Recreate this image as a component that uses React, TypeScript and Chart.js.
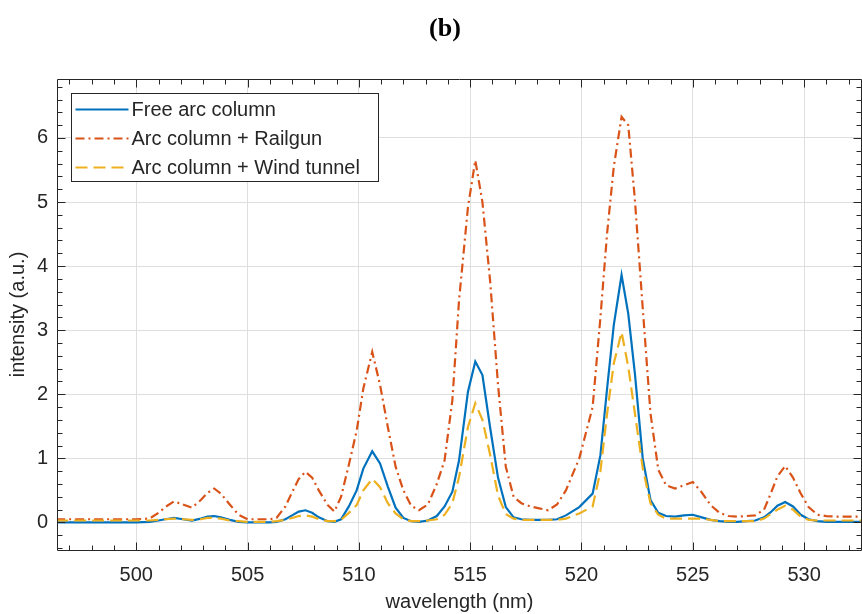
import React, { useEffect, useRef } from "react";
import { Chart, registerables } from "chart.js";

Chart.register(...registerables);

// ---- data ----
const wavelength = [
  496.4, 497, 498, 499, 500, 500.6, 501, 501.3, 501.7, 502.1, 502.5, 502.9, 503.2, 503.5, 503.8,
  504.2, 504.6, 505.0, 505.5, 506.0, 506.3, 506.7, 507.0, 507.3, 507.6, 507.9, 508.2, 508.6, 508.9,
  509.2, 509.55, 509.9, 510.2, 510.6, 510.95, 511.3, 511.65, 512.0, 512.35, 512.7, 513.1, 513.5,
  513.85, 514.2, 514.5, 514.9, 515.23, 515.55, 515.9, 516.25, 516.6, 516.95, 517.3, 517.7, 518.1,
  518.5, 518.9, 519.3, 519.9, 520.5, 520.85, 521.15, 521.45, 521.8, 522.1, 522.4, 522.75, 523.1,
  523.45, 523.8, 524.2, 524.6, 525.0, 525.4, 525.8, 526.2, 526.6, 527.0, 527.4, 527.8, 528.2,
  528.5, 528.8, 529.15, 529.5, 529.85, 530.2, 530.6, 531.0, 531.5, 532.0, 532.6,
];

const freeArc = [
  0.0, 0.0, 0.0, 0.0, 0.0, 0.01, 0.03, 0.05, 0.07, 0.05, 0.03, 0.06, 0.09, 0.10, 0.08,
  0.04, 0.01, 0.0, 0.0, 0.0, 0.01, 0.05, 0.11, 0.17, 0.19, 0.15, 0.08, 0.02, 0.01,
  0.05, 0.25, 0.5, 0.84, 1.11, 0.92, 0.56, 0.23, 0.07, 0.02, 0.01, 0.03, 0.10,
  0.25, 0.48, 0.97, 2.04, 2.51, 2.3, 1.47, 0.7, 0.24, 0.08, 0.05, 0.04, 0.04,
  0.04, 0.05, 0.11, 0.24, 0.45, 1.05, 2.09, 3.08, 3.86, 3.26, 2.32, 1.0, 0.35,
  0.15, 0.1, 0.09, 0.11, 0.12, 0.08, 0.04, 0.02, 0.01, 0.01, 0.02, 0.03, 0.08,
  0.16, 0.26, 0.32, 0.25, 0.12, 0.05, 0.02, 0.01, 0.01, 0.01, 0.01,
];

const railgun = [
  0.05, 0.05, 0.05, 0.05, 0.05, 0.06, 0.15, 0.24, 0.33, 0.28, 0.23, 0.35, 0.46, 0.53, 0.45,
  0.28, 0.12, 0.05, 0.05, 0.05, 0.07, 0.25, 0.47, 0.68, 0.79, 0.7, 0.5, 0.27, 0.17,
  0.4, 0.9, 1.43, 2.09, 2.66, 2.15, 1.49, 0.87, 0.5, 0.26, 0.19, 0.28, 0.6,
  0.97, 1.91, 3.47, 4.92, 5.65, 5.0, 3.75, 2.15, 0.87, 0.4, 0.3, 0.25, 0.22,
  0.19, 0.28, 0.5, 1.0, 1.8, 3.2, 4.51, 5.55, 6.33, 6.2, 5.03, 3.35, 1.7,
  0.82, 0.58, 0.53, 0.58, 0.63, 0.47, 0.27, 0.15, 0.1, 0.09, 0.1, 0.11, 0.2,
  0.45, 0.72, 0.88, 0.7, 0.45, 0.24, 0.12, 0.1, 0.09, 0.09, 0.09,
];

const windTunnel = [
  0.03, 0.03, 0.03, 0.03, 0.03, 0.03, 0.04, 0.05, 0.06, 0.05, 0.04, 0.05, 0.07, 0.07, 0.06,
  0.03, 0.02, 0.01, 0.01, 0.01, 0.02, 0.04, 0.07, 0.1, 0.11, 0.09, 0.05, 0.02, 0.02,
  0.04, 0.15, 0.27, 0.5, 0.68, 0.55, 0.3, 0.14, 0.05, 0.02, 0.02, 0.03, 0.05,
  0.12, 0.3, 0.71, 1.49, 1.86, 1.6, 1.05, 0.42, 0.13, 0.06, 0.04, 0.04, 0.04,
  0.04, 0.04, 0.06, 0.14, 0.25, 0.8, 1.7, 2.48, 2.97, 2.43, 1.7, 0.85, 0.3,
  0.12, 0.06, 0.06, 0.06, 0.06, 0.06, 0.04, 0.02, 0.02, 0.02, 0.02, 0.02, 0.06,
  0.13, 0.2, 0.26, 0.2, 0.09, 0.04, 0.03, 0.03, 0.03, 0.03, 0.03,
];

const seriesNames = ["Free arc column", "Arc column + Railgun", "Arc column + Wind tunnel"];
const xTicks = [500, 505, 510, 515, 520, 525, 530];
const yTicks = [0, 1, 2, 3, 4, 5, 6];
const xRange = [496.44, 532.6];
const yRange = [-0.43, 6.92];
const chartTitle = "(b)";
const xTitle = "wavelength (nm)";
const yTitle = "intensity (a.u.)";

// ---- styles ----
const FONT = '"Liberation Sans", Arial, Helvetica, sans-serif';
const TEXT = "#262626";
const COLORS = ["#0072BD", "#D95319", "#EDB120"];
const DASHES: number[][] = [[], [9, 4, 2, 4], [12, 6]];

const toPoints = (ys: number[]) => ys.map((y, i) => ({ x: wavelength[i], y }));

const decorPlugin = {
  id: "decor",
  afterDraw(chart: any) {
    const { ctx, chartArea: a, scales } = chart;
    const xs = scales.x;
    const ys = scales.y;
    ctx.save();
    // title
    ctx.fillStyle = "#000";
    ctx.font = 'bold 26px "Liberation Serif", "Times New Roman", serif';
    ctx.textAlign = "center";
    ctx.textBaseline = "middle";
    ctx.fillText(chartTitle, 445, 29);

    // frame
    ctx.strokeStyle = TEXT;
    ctx.lineWidth = 1;
    ctx.setLineDash([]);
    const L = Math.round(a.left) + 0.5;
    const R = Math.round(a.right) - 0.5;
    const T = Math.round(a.top) + 0.5;
    const B = Math.round(a.bottom) + 0.5;
    ctx.beginPath();
    ctx.moveTo(L, T);
    ctx.lineTo(R, T);
    ctx.lineTo(R, B);
    ctx.lineTo(L, B);
    ctx.closePath();
    ctx.stroke();

    // inward ticks
    ctx.beginPath();
    for (let v = Math.ceil(xRange[0]); v <= xRange[1]; v += 1) {
      const px = Math.round(xs.getPixelForValue(v)) + 0.5;
      const len = v % 5 === 0 ? 8 : 5;
      ctx.moveTo(px, B);
      ctx.lineTo(px, B - len);
      ctx.moveTo(px, T);
      ctx.lineTo(px, T + len);
    }
    for (let i = Math.ceil(yRange[0] / 0.2); i * 0.2 <= yRange[1]; i++) {
      const py = Math.round(ys.getPixelForValue(i * 0.2)) + 0.5;
      const len = i % 5 === 0 ? 8 : 5;
      ctx.moveTo(L, py);
      ctx.lineTo(L + len, py);
      ctx.moveTo(R, py);
      ctx.lineTo(R - len, py);
    }
    ctx.stroke();

    // legend
    const bx = Math.round(a.left) + 14.5;
    const by = Math.round(a.top) + 14.5;
    const bw = 307;
    const bh = 88;
    ctx.fillStyle = "#fff";
    ctx.fillRect(bx, by, bw, bh);
    ctx.strokeStyle = TEXT;
    ctx.strokeRect(bx, by, bw, bh);
    ctx.font = `20px ${FONT}`;
    ctx.textAlign = "left";
    ctx.textBaseline = "middle";
    seriesNames.forEach((name, i) => {
      const yy = by + 16 + i * 29;
      ctx.beginPath();
      ctx.strokeStyle = COLORS[i];
      ctx.lineWidth = 2;
      ctx.setLineDash(DASHES[i]);
      ctx.moveTo(bx + 4, yy);
      ctx.lineTo(bx + 57, yy);
      ctx.stroke();
      ctx.setLineDash([]);
      ctx.fillStyle = TEXT;
      ctx.fillText(name, bx + 60, yy + 1);
    });
    ctx.restore();
  },
};

export default function App() {
  const ref = useRef<HTMLCanvasElement | null>(null);

  useEffect(() => {
    if (!ref.current) return;
    const series = [freeArc, railgun, windTunnel];
    const chart = new Chart(ref.current, {
      type: "line",
      data: {
        datasets: series.map((ys, i) => ({
          label: seriesNames[i],
          data: toPoints(ys),
          borderColor: COLORS[i],
          backgroundColor: COLORS[i],
          borderWidth: 2.2,
          borderDash: DASHES[i],
          pointRadius: 0,
          tension: 0,
          fill: false,
          order: 3 - i,
        })),
      },
      options: {
        responsive: false,
        animation: false,
        devicePixelRatio: 1,
        layout: { padding: { top: 79, right: 0, left: 0, bottom: 0 } },
        plugins: {
          legend: { display: false },
          title: { display: false },
          tooltip: { enabled: false },
        },
        scales: {
          x: {
            type: "linear",
            min: xRange[0],
            max: xRange[1],
            afterBuildTicks: (s: any) => {
              s.ticks = xTicks.map((v) => ({ value: v }));
            },
            afterFit: (s: any) => {
              s.height = 64;
            },
            grid: { color: "#dfdfdf", drawTicks: false, lineWidth: 1 },
            border: { display: false },
            ticks: {
              padding: 13,
              maxRotation: 0,
              autoSkip: false,
              color: TEXT,
              font: { family: FONT, size: 20 },
            },
            title: {
              display: true,
              text: xTitle,
              color: TEXT,
              font: { family: FONT, size: 20 },
              padding: { top: 0, bottom: 0 },
            },
          },
          y: {
            type: "linear",
            min: yRange[0],
            max: yRange[1],
            afterBuildTicks: (s: any) => {
              s.ticks = yTicks.map((v) => ({ value: v }));
            },
            afterFit: (s: any) => {
              s.width = 57;
            },
            grid: { color: "#dfdfdf", drawTicks: false, lineWidth: 1 },
            border: { display: false },
            ticks: {
              padding: 9,
              color: TEXT,
              font: { family: FONT, size: 20 },
            },
            title: {
              display: true,
              text: yTitle,
              color: TEXT,
              font: { family: FONT, size: 20 },
              padding: { top: 6, bottom: 0 },
            },
          },
        },
      },
      plugins: [decorPlugin],
    });
    return () => chart.destroy();
  }, []);

  return (
    <div style={{ position: "absolute", left: 0, top: 0, width: 862, height: 614, background: "#fff" }}>
      <canvas ref={ref} width={862} height={614} style={{ display: "block" }} />
    </div>
  );
}
